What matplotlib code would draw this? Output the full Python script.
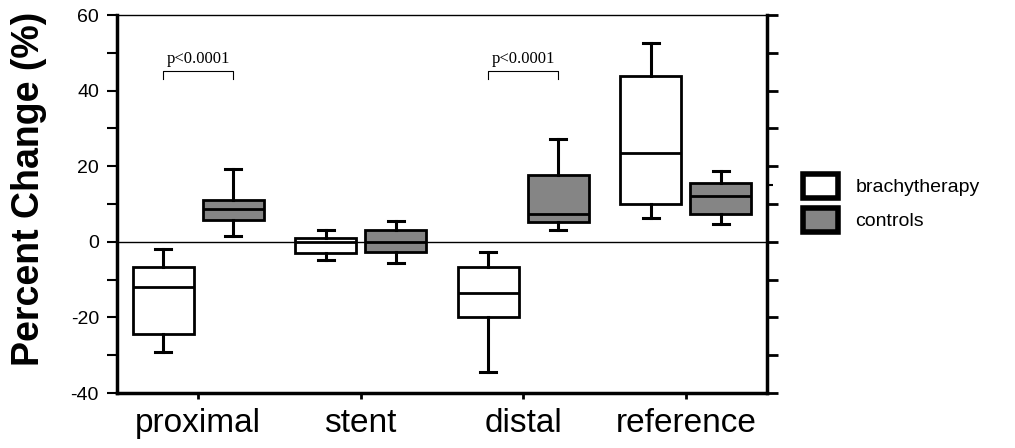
#Box plot of percent change, brachytherapy vs controls

import numpy as np
import matplotlib
matplotlib.use('Agg')
import matplotlib.pyplot as plt
from matplotlib.patches import Patch

plt.rcParams['font.family'] = ['Liberation Sans', 'DejaVu Sans']
plt.rcParams['axes.unicode_minus'] = False

#data

categories = ['proximal', 'stent', 'distal', 'reference']

brachy_lo = [-29.2, -4.9, -34.4, 6.3]
brachy_q1 = [-24.5, -3.0, -19.9, 10.0]
brachy_med = [-11.9, 0.0, -13.5, 23.5]
brachy_q3 = [-6.6, 1.0, -6.7, 43.8]
brachy_hi = [-2.0, 3.1, -2.7, 52.7]

ctrl_lo = [1.6, -5.6, 3.1, 4.7]
ctrl_q1 = [5.7, -2.7, 5.2, 7.3]
ctrl_med = [8.8, 0.0, 7.4, 12.1]
ctrl_q3 = [11.0, 3.1, 17.7, 15.5]
ctrl_hi = [19.2, 5.5, 27.1, 18.7]

sig_groups = [0, 2]
sig_text = 'p<0.0001'
sig_y = 45.2

right_ticks = [60, 50, 40, 30, 20, 10, 0, -10, -20, -30, -40]
right_short = [15]


def make_stats(lo, q1, med, q3, hi):
    return [dict(whislo=a, q1=b, med=c, q3=d, whishi=e, fliers=[])
            for a, b, c, d, e in zip(lo, q1, med, q3, hi)]


fig = plt.figure(figsize=(10.15, 4.48), dpi=100)
ax = fig.add_axes([117 / 1015, 55 / 448, 650 / 1015, 378 / 448])

x = np.arange(len(categories))
off = 0.215
wid = 0.375

common = dict(widths=wid, patch_artist=True, showfliers=False,
              medianprops=dict(color='black', linewidth=2),
              whiskerprops=dict(color='black', linewidth=2.2),
              capprops=dict(color='black', linewidth=2.2),
              capwidths=0.1)

ax.bxp(make_stats(brachy_lo, brachy_q1, brachy_med, brachy_q3, brachy_hi),
       positions=x - off, boxprops=dict(linewidth=2, edgecolor='black', facecolor='white'),
       **common)
ax.bxp(make_stats(ctrl_lo, ctrl_q1, ctrl_med, ctrl_q3, ctrl_hi),
       positions=x + off, boxprops=dict(linewidth=2, edgecolor='black', facecolor='#858585'),
       **common)

#zero line
ax.axhline(0, color='black', linewidth=1, zorder=0)

#significance brackets
for g in sig_groups:
    ax.plot([g - off, g - off, g + off, g + off], [sig_y - 2.2, sig_y, sig_y, sig_y - 2.2],
            color='black', linewidth=0.8)
    ax.text(g, sig_y + 2.0, sig_text, ha='center', va='baseline', fontsize=12,
            family='Liberation Serif')

ax.set_xlim(-0.5, 3.5)
ax.set_ylim(-40, 60)
ax.set_xticks(x)
ax.set_xticklabels(categories, fontsize=24)
ax.set_yticks(np.arange(-40, 61, 20))
ax.set_yticks(np.arange(-30, 60, 20), minor=True)
ax.tick_params(axis='y', which='both', direction='out', length=7, width=1.5,
               labelsize=14, pad=6)
ax.tick_params(axis='x', direction='out', length=4, width=2, pad=7)

ax.spines['left'].set_linewidth(2.5)
ax.spines['bottom'].set_linewidth(2.5)
ax.spines['right'].set_visible(False)
ax.spines['top'].set_linewidth(1)

ax.set_ylabel('Percent Change (%)', fontsize=27, fontweight='bold')
ax.yaxis.set_label_coords(-0.108, 0.54)

#right axis with its own ticks
ax2 = ax.twinx()
ax2.set_ylim(-40, 60)
ax2.set_yticks(right_ticks)
ax2.set_yticks(right_short, minor=True)
ax2.set_yticklabels([])
ax2.tick_params(axis='y', which='major', direction='out', length=8, width=2)
ax2.tick_params(axis='y', which='minor', direction='out', length=4, width=1.5)
ax2.spines['right'].set_linewidth(2.5)
for s in ['left', 'top', 'bottom']:
    ax2.spines[s].set_visible(False)

handles = [Patch(facecolor='white', edgecolor='black', linewidth=4, label='brachytherapy'),
           Patch(facecolor='#858585', edgecolor='black', linewidth=4, label='controls')]
fig.legend(handles=handles, loc='center left', bbox_to_anchor=(793 / 1015, 245 / 448),
           frameon=False, fontsize=14, handlelength=1.8, handleheight=1.55,
           handletextpad=0.9, labelspacing=0.5, borderpad=0)

fig.savefig('out.png', dpi=100)
